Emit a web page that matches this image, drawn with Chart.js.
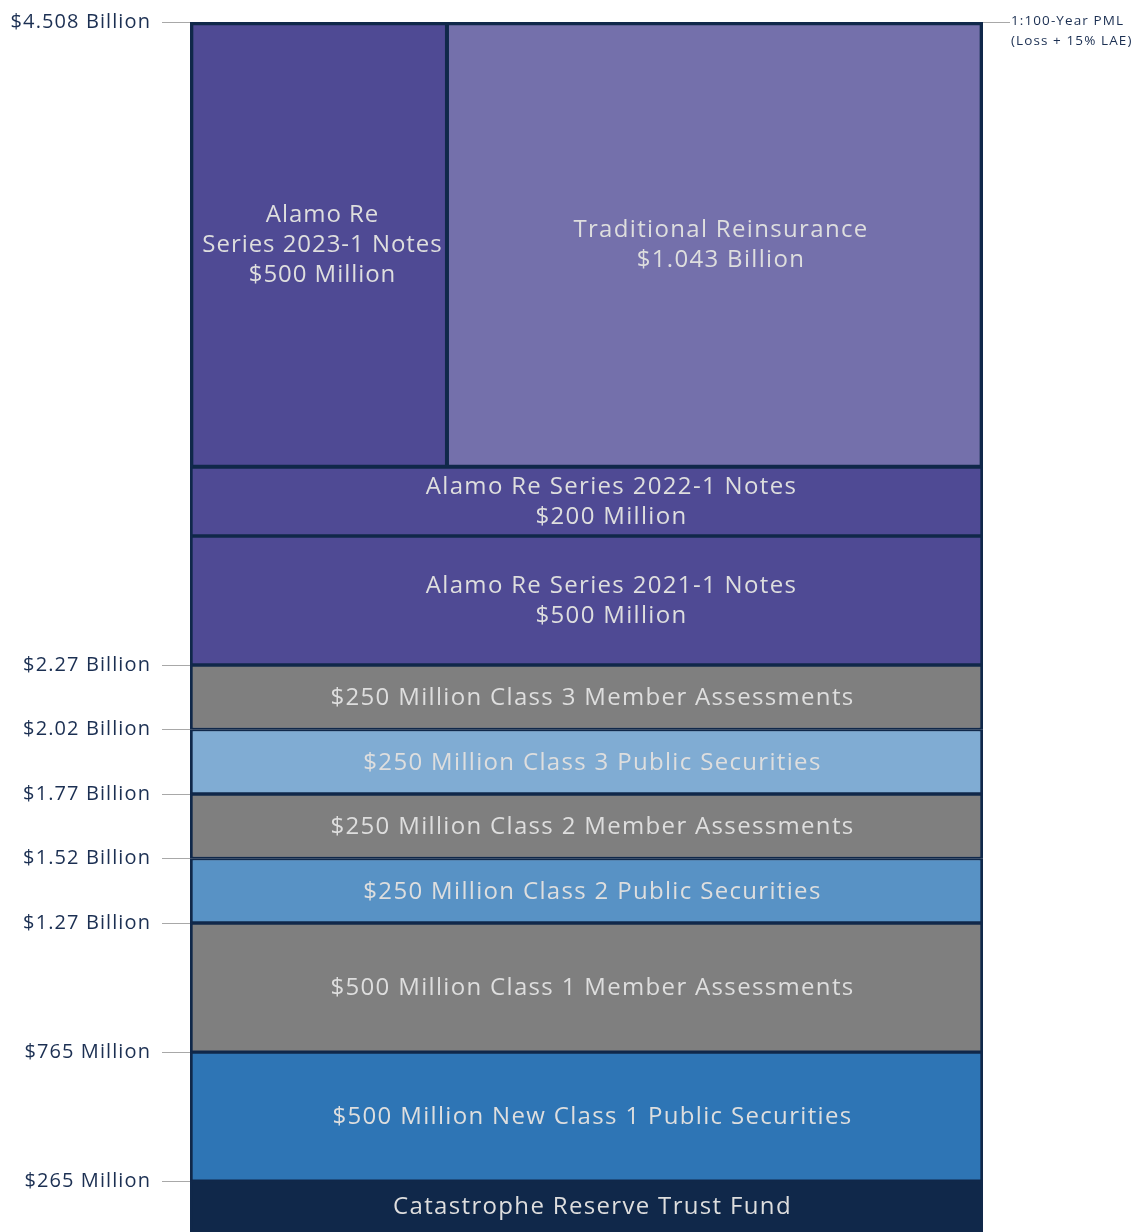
<!DOCTYPE html>
<html>
<head>
<meta charset="utf-8">
<script src="https://cdn.jsdelivr.net/npm/chart.js@4.4.1/dist/chart.umd.min.js"></script>
<style>
  html, body { margin: 0; padding: 0; background: #ffffff; }
  #wrap { width: 1138px; height: 1232px; position: relative; }
</style>
</head>
<body>
<div id="wrap"><canvas id="chart"></canvas></div>
<script>
// ---------------- DATA (US$ millions) ----------------
const layerNames = [
  'Catastrophe Reserve Trust Fund',
  '$500 Million New Class 1 Public Securities',
  '$500 Million Class 1 Member Assessments',
  '$250 Million Class 2 Public Securities',
  '$250 Million Class 2 Member Assessments',
  '$250 Million Class 3 Public Securities',
  '$250 Million Class 3 Member Assessments',
  'Alamo Re Series 2021-1 Notes',
  'Alamo Re Series 2022-1 Notes'
];
const layerAmounts = [265, 500, 500, 250, 250, 250, 250, 500, 200];
const layerLabelLines = [
  ['Catastrophe Reserve Trust Fund'],
  ['$500 Million New Class 1 Public Securities'],
  ['$500 Million Class 1 Member Assessments'],
  ['$250 Million Class 2 Public Securities'],
  ['$250 Million Class 2 Member Assessments'],
  ['$250 Million Class 3 Public Securities'],
  ['$250 Million Class 3 Member Assessments'],
  ['Alamo Re Series 2021-1 Notes', '$500 Million'],
  ['Alamo Re Series 2022-1 Notes', '$200 Million']
];
// top layer: two programs side by side
const topNames = ['Alamo Re Series 2023-1 Notes', 'Traditional Reinsurance'];
const topAmounts = [500, 1043];
const topLabelLines = [
  ['Alamo Re', 'Series 2023-1 Notes', '$500 Million'],
  ['Traditional Reinsurance', '$1.043 Billion']
];
const tickValues = [265, 765, 1265, 1515, 1765, 2015, 2265, 4508];
const tickLabels = ['$265 Million', '$765 Million', '$1.27 Billion', '$1.52 Billion',
                    '$1.77 Billion', '$2.02 Billion', '$2.27 Billion', '$4.508 Billion'];
const pmlValue = 4508;
const pmlLabel = ['1:100-Year PML', '(Loss + 15% LAE)'];

// ---------------- STYLE ----------------
const NAVY = '#10284a';
const layerColors = ['#10284a', '#2e75b5', '#7f7f7f', '#5892c5', '#7f7f7f', '#80acd3', '#7f7f7f', '#4f4a94', '#4f4a94'];
const layerLabelDx = [6, 6, 6, 6, 6, 6, 6, 25, 25];
const topColors = ['#4f4a94', '#7470ab'];
const topLabelDx = [4, 6];
const topLabelSpacing = ['0.95px', '1.33px'];
const FONT = "'Open Sans', 'Noto Sans', sans-serif";

// ---------------- SCALE: infographic axis with segments of different density ----------------
const axisSegmentValues = [0, 265, 2765, 2965, 4508];
const axisSegmentFractions = [0, 0.0421, 0.5752, 0.6322, 1];
function interp(xs, ys, v) {
  const n = xs.length - 1;
  let i = 1;
  while (i < n && v > xs[i]) i++;
  return ys[i - 1] + (v - xs[i - 1]) * (ys[i] - ys[i - 1]) / (xs[i] - xs[i - 1]);
}
const BaseLinear = Chart.LinearScale || Chart.registry.getScale('linear');
class SegmentedScale extends BaseLinear {
  getPixelForValue(v) {
    if (v === null || v === undefined || isNaN(v)) return NaN;
    return this.getPixelForDecimal(interp(axisSegmentValues, axisSegmentFractions, v));
  }
  getValueForPixel(p) {
    return interp(axisSegmentFractions, axisSegmentValues, this.getDecimalForPixel(p));
  }
}
SegmentedScale.id = 'segmented';
SegmentedScale.defaults = {};
Chart.register(SegmentedScale);

// ---------------- BUILD DATASETS ----------------
const datasets = [];
let acc = 0;
layerAmounts.forEach((amt, i) => {
  datasets.push({
    type: 'bar',
    label: layerNames[i],
    data: [[acc, acc + amt]],
    backgroundColor: layerColors[i],
    borderColor: NAVY,
    borderWidth: { left: 3, right: 3, top: 2, bottom: 2 },
    borderSkipped: false,
    xAxisID: 'x', yAxisID: 'y',
    barPercentage: 1, categoryPercentage: 1, grouped: false,
    order: 2,
    labelLines: layerLabelLines[i],
    labelDx: layerLabelDx[i]
  });
  acc += amt;
});
const topBase = acc;
const topTotal = topAmounts.reduce((a, b) => a + b, 0);
const topTop = topBase + topTotal;
let xAcc = 0;
topAmounts.forEach((amt, i) => {
  datasets.push({
    type: 'line',
    label: topNames[i],
    data: [{ x: xAcc, y: topTop }, { x: xAcc + amt, y: topTop }],
    fill: { value: topBase },
    backgroundColor: topColors[i],
    borderWidth: 0,
    pointRadius: 0,
    xAxisID: 'xr', yAxisID: 'y',
    order: 3,
    labelLines: topLabelLines[i],
    labelDx: topLabelDx[i],
    labelSpacing: topLabelSpacing[i]
  });
  xAcc += amt;
});
// divider between the two top programs
datasets.push({
  type: 'line', label: 'divider',
  data: [{ x: topAmounts[0], y: topBase }, { x: topAmounts[0], y: topTop }],
  borderColor: NAVY, borderWidth: 4, fill: false, pointRadius: 0,
  xAxisID: 'xr', yAxisID: 'y', order: 1
});
// outline of the top layer
datasets.push({
  type: 'bar', label: 'top outline',
  data: [[topBase, topTop]],
  backgroundColor: 'rgba(0,0,0,0)',
  borderColor: NAVY,
  borderWidth: { left: 3, right: 3, top: 3, bottom: 2 },
  borderSkipped: false,
  xAxisID: 'x', yAxisID: 'y',
  barPercentage: 1, categoryPercentage: 1, grouped: false,
  order: 0
});

// ---------------- PLUGINS ----------------
const spacingPlugin = {
  id: 'letterSpacing',
  beforeLayout(chart) { chart.ctx.letterSpacing = '1.1px'; },
  beforeDraw(chart) { chart.ctx.letterSpacing = '1.1px'; }
};
const layerLabelPlugin = {
  id: 'layerLabels',
  afterDatasetsDraw(chart) {
    const ctx = chart.ctx;
    chart.data.datasets.forEach((ds, i) => {
      if (!ds.labelLines) return;
      const meta = chart.getDatasetMeta(i);
      let cx, cy;
      if (meta.type === 'bar') {
        const el = meta.data[0];
        cx = el.x; cy = (el.y + el.base) / 2;
      } else {
        const pts = meta.data;
        cx = (pts[0].x + pts[pts.length - 1].x) / 2;
        cy = (pts[0].y + meta.vScale.getPixelForValue(ds.fill.value)) / 2;
      }
      cx += ds.labelDx || 0;
      cy += 1;
      ctx.save();
      ctx.font = '24px ' + FONT;
      ctx.letterSpacing = ds.labelSpacing || '1.33px';
      ctx.fillStyle = '#dedede';
      ctx.textAlign = 'center';
      ctx.textBaseline = 'middle';
      const lh = 30, n = ds.labelLines.length;
      ds.labelLines.forEach((t, k) => ctx.fillText(t, cx, cy + (k - (n - 1) / 2) * lh));
      ctx.restore();
    });
  }
};

// ---------------- CHART ----------------
new Chart(document.getElementById('chart'), {
  type: 'bar',
  data: { labels: ['Funding'], datasets },
  options: {
    responsive: true,
    maintainAspectRatio: false,
    animation: false,
    layout: { padding: { top: 22, bottom: 0, left: 0, right: 0 } },
    plugins: { legend: { display: false }, tooltip: { enabled: false } },
    scales: {
      x: { type: 'category', display: false, offset: true },
      xr: { type: 'linear', axis: 'x', display: false, min: 0, max: topTotal, offset: false },
      y: {
        type: 'segmented', position: 'left', min: 0, max: topTop,
        afterBuildTicks: s => { s.ticks = tickValues.map(v => ({ value: v })); },
        afterFit: s => { s.width = 190; s.paddingTop = 0; s.paddingBottom = 0; },
        ticks: {
          autoSkip: false, padding: 11, color: '#1b2f52',
          font: { family: FONT, size: 20 },
          callback: (v) => { const k = tickValues.indexOf(v); return k >= 0 ? tickLabels[k] : ''; }
        },
        grid: { drawOnChartArea: false, drawTicks: true, tickLength: 28, tickColor: '#a8a8a8', tickWidth: 1 },
        border: { display: false }
      },
      y2: {
        type: 'segmented', position: 'right', min: 0, max: topTop,
        afterBuildTicks: s => { s.ticks = [{ value: pmlValue }]; },
        afterFit: s => { s.width = 155; s.paddingTop = 0; s.paddingBottom = 0; },
        ticks: {
          autoSkip: false, padding: 1, color: '#1b2f52', labelOffset: 9,
          font: { family: FONT, size: 13.5, lineHeight: 1.45 },
          callback: () => pmlLabel
        },
        grid: { drawOnChartArea: false, drawTicks: true, tickLength: 27, tickColor: '#a8a8a8', tickWidth: 1 },
        border: { display: false }
      }
    }
  },
  plugins: [spacingPlugin, layerLabelPlugin]
});
</script>
</body>
</html>
